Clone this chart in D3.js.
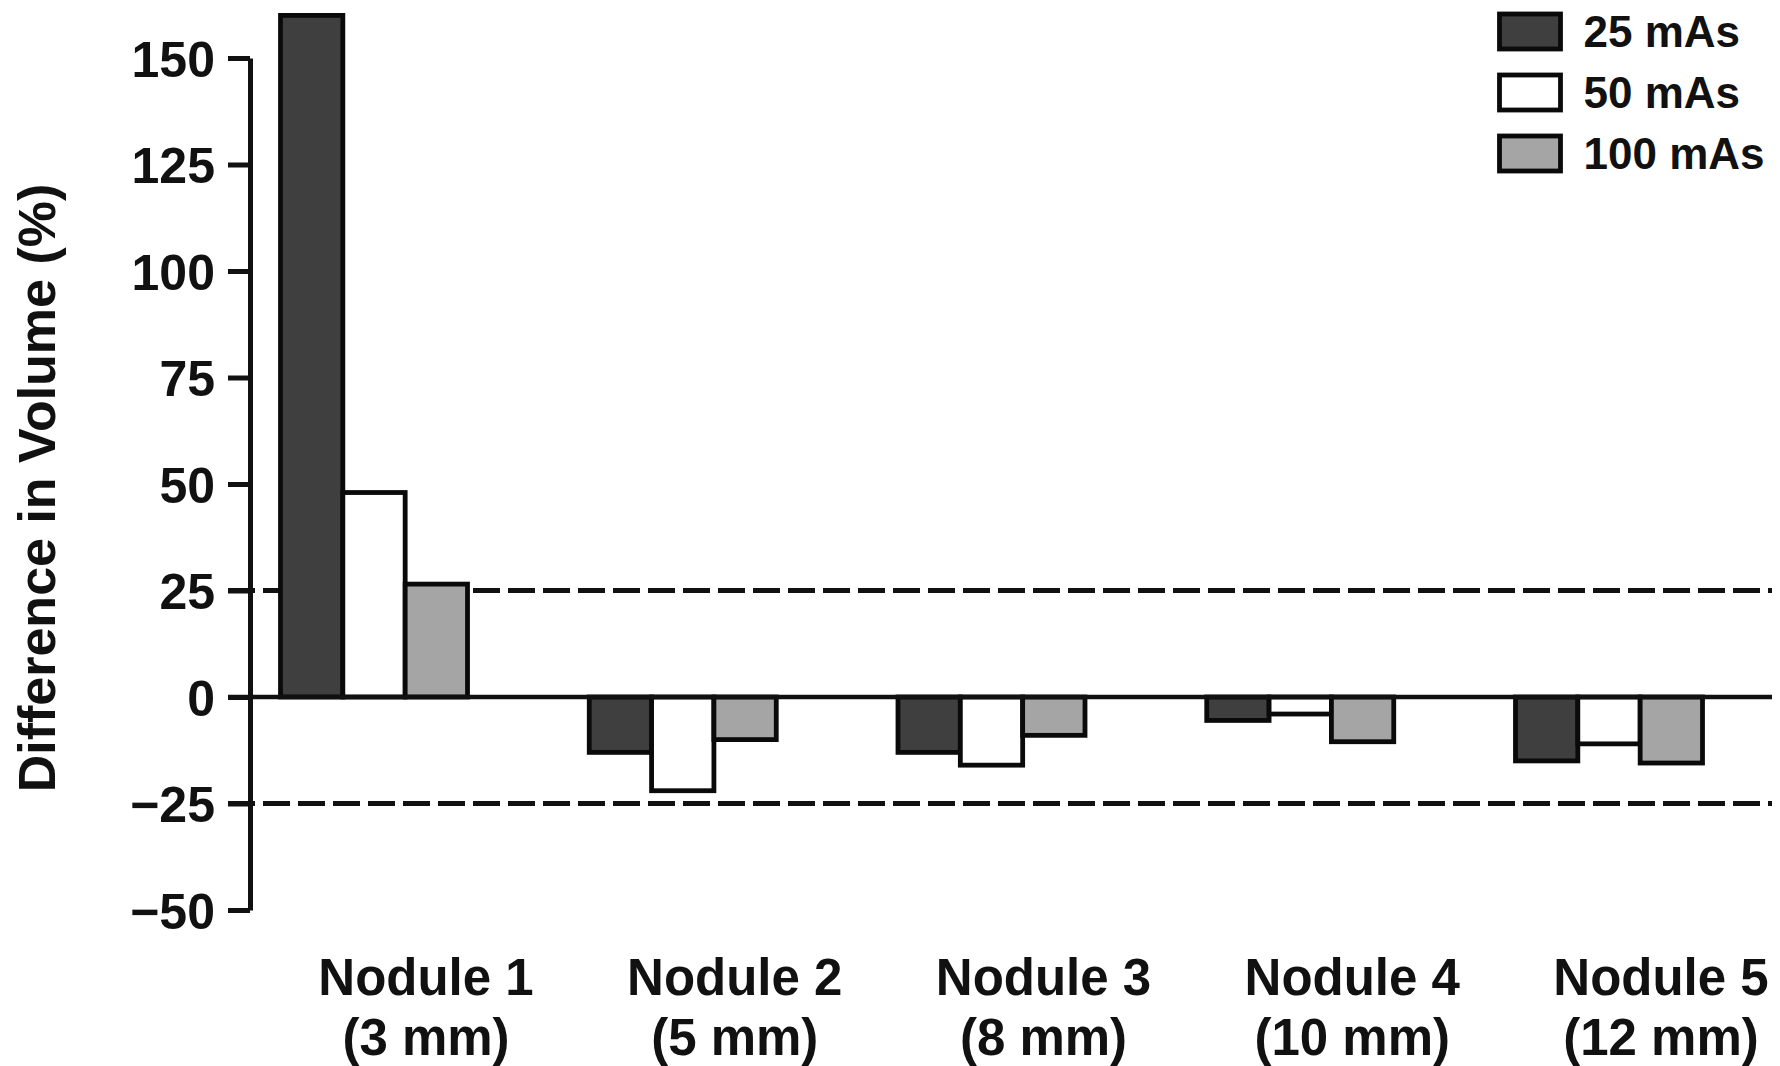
<!DOCTYPE html>
<html>
<head>
<meta charset="utf-8">
<script src="https://cdn.jsdelivr.net/npm/d3@7"></script>
<style>
  html, body { margin: 0; padding: 0; background: #fff; }
  svg { display: block; }
  text { font-family: "Liberation Sans", Arial, Helvetica, sans-serif; font-weight: bold; fill: #111; }
</style>
</head>
<body>
<svg id="chart" width="1780" height="1066"></svg>
<script>
// Nodule categories and their sizes (second label line)
const nodules = ["Nodule 1", "Nodule 2", "Nodule 3", "Nodule 4", "Nodule 5"];
const noduleSizes = ["(3 mm)", "(5 mm)", "(8 mm)", "(10 mm)", "(12 mm)"];

// Tube current-time product settings
const seriesNames = ["25 mAs", "50 mAs", "100 mAs"];
const seriesColors = ["#3f3f3f", "#ffffff", "#a5a5a5"];

// Difference in volume (%) per nodule, one array per setting
const values25 = [160, -13, -13, -5.5, -15];
const values50 = [48, -22, -16, -4, -11];
const values100 = [26.5, -10, -9, -10.5, -15.5];

// Y axis ticks and the ±25% tolerance band
const yTicks = [-50, -25, 0, 25, 50, 75, 100, 125, 150];
const toleranceLines = [25, -25];

const seriesValues = [values25, values50, values100];
const rows = nodules.map((n, i) => ({
  nodule: n,
  size: noduleSizes[i],
  bars: seriesNames.map((s, j) => ({ series: s, value: seriesValues[j][i], color: seriesColors[j] }))
}));

const svg = d3.select("#chart");

const y = d3.scaleLinear().domain([-50, 150]).range([910, 58]);
const x = d3.scaleBand().domain(nodules).range([280.5, 1702.5]).paddingInner(0.3943).paddingOuter(0);
const xs = d3.scaleBand().domain(seriesNames).range([0, x.bandwidth()]).padding(0);

const axisX = 250;
const lineLeft = 228, lineRight = 1772;

// dashed ±25% reference lines (behind the bars)
svg.append("g").selectAll("line").data(toleranceLines).join("line")
  .attr("x1", lineLeft).attr("x2", lineRight)
  .attr("y1", d => y(d)).attr("y2", d => y(d))
  .attr("stroke", "#111").attr("stroke-width", 5)
  .attr("stroke-dasharray", "27,8");

// grouped bars
const groups = svg.append("g").selectAll("g").data(rows).join("g")
  .attr("transform", d => `translate(${x(d.nodule)},0)`);

groups.selectAll("rect").data(d => d.bars).join("rect")
  .attr("x", d => xs(d.series))
  .attr("width", xs.bandwidth())
  .attr("y", d => y(Math.max(0, d.value)))
  .attr("height", d => Math.abs(y(d.value) - y(0)))
  .attr("fill", d => d.color)
  .attr("stroke", "#0a0a0a")
  .attr("stroke-width", 4.8);

// zero baseline
svg.append("line")
  .attr("x1", lineLeft).attr("x2", lineRight)
  .attr("y1", y(0)).attr("y2", y(0))
  .attr("stroke", "#111").attr("stroke-width", 4.5);

// y axis
const yAxis = d3.axisLeft(y)
  .tickValues(yTicks)
  .tickSize(22)
  .tickSizeOuter(0)
  .tickPadding(13)
  .tickFormat(d => d < 0 ? "\u2212" + Math.abs(d) : String(d));

const gy = svg.append("g").attr("transform", `translate(${axisX},0)`).call(yAxis);
gy.select(".domain").attr("stroke", "#111").attr("stroke-width", 5);
gy.selectAll(".tick line").attr("stroke", "#111").attr("stroke-width", 5);
gy.selectAll(".tick text")
  .attr("font-size", 50)
  .attr("font-family", "Liberation Sans, Arial, sans-serif")
  .attr("font-weight", "bold")
  .attr("fill", "#111")
  .attr("dy", "0.36em");

// y axis title
svg.append("text")
  .attr("transform", "translate(55,488) rotate(-90)")
  .attr("text-anchor", "middle")
  .attr("font-size", 52)
  .text("Difference in Volume (%)");

// category labels (two lines)
const labels = svg.append("g").selectAll("text").data(rows).join("text")
  .attr("text-anchor", "middle")
  .attr("font-size", 51)
  .attr("transform", d => `translate(${x(d.nodule) + x.bandwidth() / 2 + 52},0)`);
labels.append("tspan").attr("x", 0).attr("y", 995).text(d => d.nodule);
labels.append("tspan").attr("x", 0).attr("y", 1055).text(d => d.size);

// legend
const legend = svg.append("g").attr("transform", "translate(1499.5,14)");
const items = legend.selectAll("g").data(seriesNames).join("g")
  .attr("transform", (d, i) => `translate(0,${i * 61})`);
items.append("rect")
  .attr("width", 61).attr("height", 35)
  .attr("fill", (d, i) => seriesColors[i])
  .attr("stroke", "#0a0a0a").attr("stroke-width", 4.8);
items.append("text")
  .attr("x", 84).attr("y", 17.5).attr("dy", "0.36em")
  .attr("font-size", 44)
  .text(d => d);
</script>
</body>
</html>
